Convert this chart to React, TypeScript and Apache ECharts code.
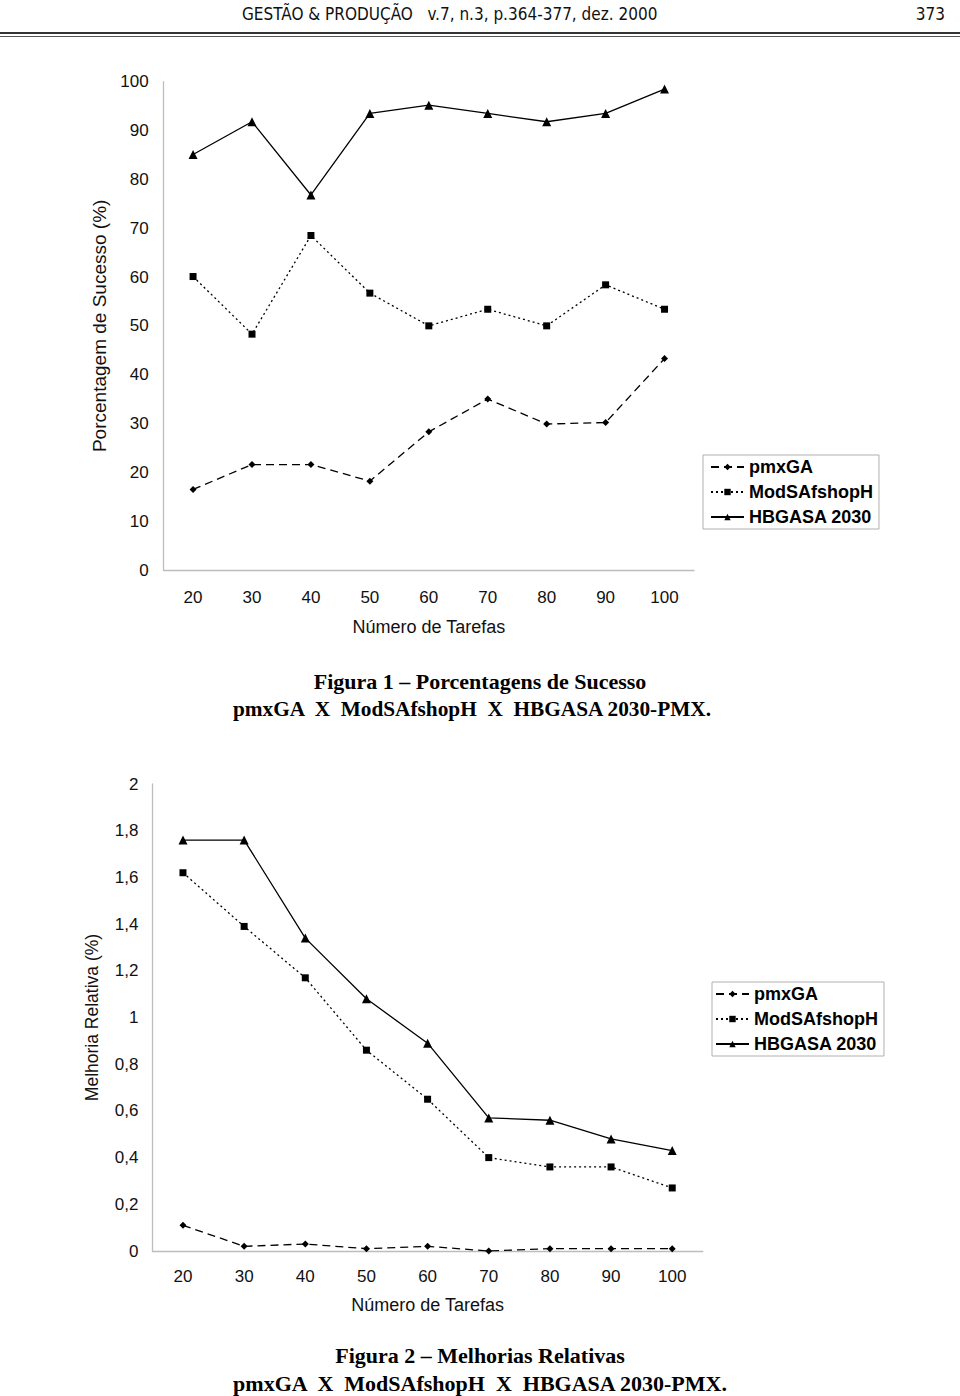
import React, { useEffect, useRef } from "react";
import * as echarts from "echarts";

const categories = ["20", "30", "40", "50", "60", "70", "80", "90", "100"];
const seriesNames = ["pmxGA", "ModSAfshopH", "HBGASA 2030"];

// Figura 1 – Porcentagens de Sucesso (%)
const pmxGA_success = [16.5, 21.6, 21.6, 18.2, 28.3, 35.0, 29.9, 30.2, 43.3];
const modSA_success = [60.1, 48.3, 68.5, 56.7, 50.0, 53.4, 50.0, 58.4, 53.4];
const hbgasa_success = [85.1, 91.8, 76.8, 93.5, 95.2, 93.5, 91.8, 93.5, 98.5];

// Figura 2 – Melhorias Relativas (%)
const pmxGA_improve = [0.11, 0.02, 0.03, 0.01, 0.02, 0.0, 0.01, 0.01, 0.01];
const modSA_improve = [1.62, 1.39, 1.17, 0.86, 0.65, 0.4, 0.36, 0.36, 0.27];
const hbgasa_improve = [1.76, 1.76, 1.34, 1.08, 0.89, 0.57, 0.56, 0.48, 0.43];

const SANS = '"Liberation Sans", Arial, sans-serif';
const SERIF = '"Liberation Serif", "Times New Roman", serif';
const NARROW = '"Liberation Sans Narrow", "Arial Narrow", "DejaVu Sans Condensed", sans-serif';

const styles = [
  { symbol: "diamond", symbolSize: 7, type: [8, 5] as any },
  { symbol: "rect", symbolSize: 7, type: [2, 3] as any },
  { symbol: "triangle", symbolSize: 9, type: "solid" as any },
];

function makeSeries(data: number[], idx: number, axisIndex: number) {
  const s = styles[idx];
  return {
    type: "line",
    name: seriesNames[idx],
    xAxisIndex: axisIndex,
    yAxisIndex: axisIndex,
    data,
    symbol: s.symbol,
    symbolSize: s.symbolSize,
    showSymbol: true,
    itemStyle: { color: "#000" },
    lineStyle: { color: "#000", width: 1.3, type: s.type },
    emphasis: { disabled: true },
  };
}

export default function App() {
  const ref = useRef<HTMLDivElement>(null);
  useEffect(() => {
    if (!ref.current) return;
    const chart = echarts.init(ref.current, undefined, { renderer: "svg" });
    const axisLabelStyle = { color: "#111", fontFamily: SANS, fontSize: 17 };
    const legendBase = {
      orient: "vertical",
      itemWidth: 33,
      itemHeight: 8,
      itemGap: 5,
      borderColor: "#b0b0b0",
      borderWidth: 1,
      data: seriesNames,
      selectedMode: false,
      textStyle: {
        color: "#000",
        fontFamily: SANS,
        fontWeight: "bold",
        fontSize: 18,
        lineHeight: 20,
        padding: [0, 0, 0, 0],
      },
    };
    const captionStyle = (size: number) => ({
      fontFamily: SERIF,
      fontWeight: "bold",
      fontSize: size,
      fill: "#000",
      align: "center",
      verticalAlign: "middle",
    });
    chart.setOption({
      animation: false,
      backgroundColor: "#fff",
      grid: [
        { left: 163.6, top: 81.7, width: 530.4, height: 488.3 },
        { left: 152.4, top: 784, width: 550.4, height: 467 },
      ],
      xAxis: [
        {
          gridIndex: 0,
          type: "category",
          data: categories,
          boundaryGap: true,
          axisLine: { lineStyle: { color: "#bdbdbd", width: 1.3 } },
          axisTick: { show: false },
          axisLabel: { ...axisLabelStyle, margin: 19 },
          name: "Número de Tarefas",
          nameLocation: "middle",
          nameGap: 48,
          nameTextStyle: { color: "#111", fontFamily: SANS, fontSize: 18 },
        },
        {
          gridIndex: 1,
          type: "category",
          data: categories,
          boundaryGap: true,
          axisLine: { lineStyle: { color: "#bdbdbd", width: 1.3 } },
          axisTick: { show: false },
          axisLabel: { ...axisLabelStyle, fontSize: 17, margin: 17 },
          name: "Número de Tarefas",
          nameLocation: "middle",
          nameGap: 45,
          nameTextStyle: { color: "#111", fontFamily: SANS, fontSize: 18 },
        },
      ],
      yAxis: [
        {
          gridIndex: 0,
          type: "value",
          min: 0,
          max: 100,
          interval: 10,
          axisLine: { show: true, lineStyle: { color: "#bdbdbd", width: 1.3 } },
          axisTick: { show: false },
          splitLine: { show: false },
          axisLabel: { ...axisLabelStyle, margin: 15 },
          name: "Porcentagem de Sucesso (%)",
          nameLocation: "middle",
          nameRotate: 90,
          nameGap: 53,
          nameTextStyle: { color: "#111", fontFamily: SANS, fontSize: 19 },
        },
        {
          gridIndex: 1,
          type: "value",
          min: 0,
          max: 2,
          interval: 0.2,
          axisLine: { show: true, lineStyle: { color: "#bdbdbd", width: 1.3 } },
          axisTick: { show: false },
          splitLine: { show: false },
          axisLabel: {
            ...axisLabelStyle,
            fontSize: 17,
            margin: 14,
            formatter: (v: number) => String(Number(v.toFixed(1))).replace(".", ","),
          },
          name: "Melhoria Relativa (%)",
          nameLocation: "middle",
          nameRotate: 90,
          nameGap: 51,
          nameTextStyle: { color: "#111", fontFamily: SANS, fontSize: 17.5 },
        },
      ],
      legend: [
        { ...legendBase, left: 703, top: 455, padding: [2, 6, 2, 7] },
        { ...legendBase, left: 712, top: 982, padding: [2, 6, 2, 3] },
      ],
      series: [
        makeSeries(pmxGA_success, 0, 0),
        makeSeries(modSA_success, 1, 0),
        makeSeries(hbgasa_success, 2, 0),
        makeSeries(pmxGA_improve, 0, 1),
        makeSeries(modSA_improve, 1, 1),
        makeSeries(hbgasa_improve, 2, 1),
      ],
      graphic: [
        {
          type: "text",
          left: 242,
          top: 5,
          style: {
            text: "GESTÃO & PRODUÇÃO   v.7, n.3, p.364-377, dez. 2000",
            fontFamily: NARROW,
            fontSize: 17,
            fill: "#111",
          },
        },
        {
          type: "text",
          right: 15,
          top: 5,
          style: { text: "373", fontFamily: NARROW, fontSize: 17, fill: "#111" },
        },
        { type: "rect", shape: { x: 0, y: 32, width: 960, height: 2 }, style: { fill: "#333" } },
        { type: "rect", shape: { x: 0, y: 36, width: 960, height: 1 }, style: { fill: "#555" } },
        {
          type: "text",
          x: 480,
          y: 681,
          style: { text: "Figura 1 – Porcentagens de Sucesso", ...captionStyle(22) },
        },
        {
          type: "text",
          x: 472,
          y: 709,
          style: { text: "pmxGA  X  ModSAfshopH  X  HBGASA 2030-PMX.", ...captionStyle(21.3) },
        },
        {
          type: "text",
          x: 480,
          y: 1355,
          style: { text: "Figura 2 – Melhorias Relativas", ...captionStyle(22) },
        },
        {
          type: "text",
          x: 480,
          y: 1383,
          style: { text: "pmxGA  X  ModSAfshopH  X  HBGASA 2030-PMX.", ...captionStyle(22) },
        },
      ],
    });
    return () => chart.dispose();
  }, []);
  return (
    <div
      ref={ref}
      style={{ position: "absolute", left: 0, top: 0, width: 960, height: 1396 }}
    />
  );
}
